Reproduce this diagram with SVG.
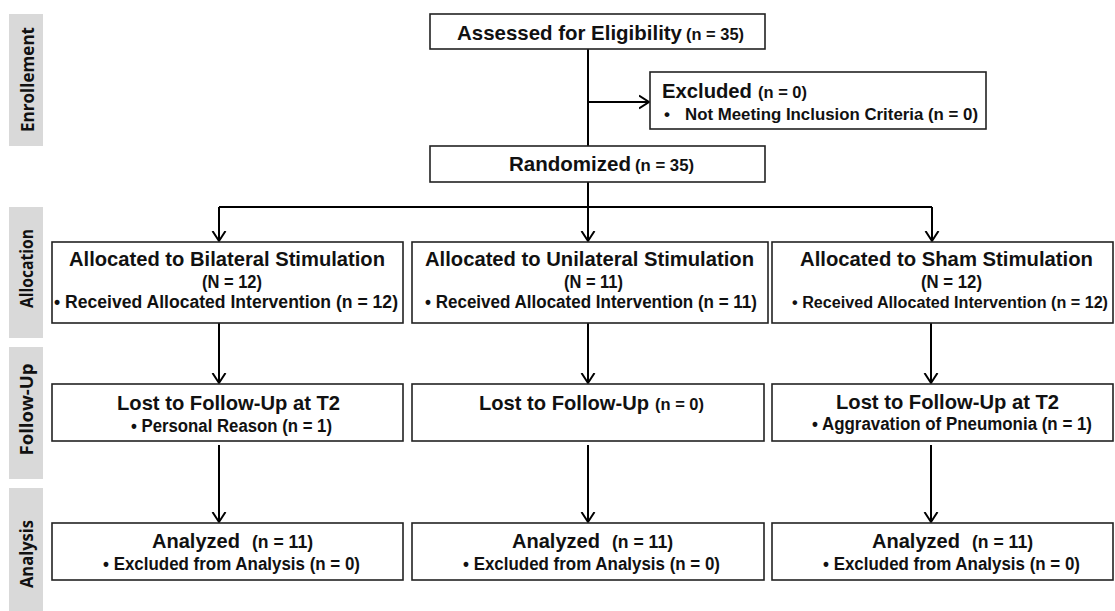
<svg xmlns="http://www.w3.org/2000/svg" width="1115" height="611" viewBox="0 0 1115 611">
<defs>
<marker id="v" markerUnits="userSpaceOnUse" markerWidth="20" markerHeight="20" refX="10" refY="10" orient="auto">
<path d="M0,3.5 L10,10 L0,16.5" fill="none" stroke="#000" stroke-width="2"/>
</marker>
<style>
.bg{fill:#fff}
.phase{fill:#d9d9d9}
.pl{font-family:"Open Sans","DejaVu Sans",sans-serif;font-size:17.5px;font-weight:700;fill:#111;text-anchor:middle}
.box{fill:#fff;stroke:#222;stroke-width:1.6}
.t{font-family:"Liberation Sans",Arial,sans-serif;font-weight:bold;font-size:21px;fill:#111}
.s{font-family:"Liberation Sans",Arial,sans-serif;font-weight:bold;font-size:17px;fill:#111}
.b{font-family:"Liberation Sans",Arial,sans-serif;font-weight:bold;font-size:18px;fill:#111}
.ln{fill:none;stroke:#000;stroke-width:2}
.ar{fill:none;stroke:#000;stroke-width:2;marker-end:url(#v)}
</style>
</defs>
<rect class="bg" x="0" y="0" width="1115" height="611"/>

<g id="phases">
<rect class="phase" x="9" y="14" width="34" height="132"/>
<text class="pl" transform="translate(34,79.5) rotate(-90)" textLength="105" lengthAdjust="spacingAndGlyphs">Enrollement</text>
<rect class="phase" x="9" y="207" width="34" height="131"/>
<text class="pl" transform="translate(33,268.5) rotate(-90)" textLength="79" lengthAdjust="spacingAndGlyphs">Allocation</text>
<rect class="phase" x="9" y="347" width="34" height="132"/>
<text class="pl" transform="translate(33,409.5) rotate(-90)" textLength="92" lengthAdjust="spacingAndGlyphs">Follow-Up</text>
<rect class="phase" x="9" y="488" width="34" height="123"/>
<text class="pl" transform="translate(33,554) rotate(-90)" textLength="68" lengthAdjust="spacingAndGlyphs">Analysis</text>
</g>

<g id="connectors">
<line class="ln" x1="588" y1="49" x2="588" y2="146"/>
<line class="ar" x1="588" y1="102" x2="649" y2="102"/>
<line class="ln" x1="588" y1="182" x2="588" y2="207"/>
<line class="ln" x1="219" y1="207" x2="932" y2="207"/>
<line class="ar" x1="219" y1="207" x2="219" y2="241"/>
<line class="ar" x1="588" y1="207" x2="588" y2="241"/>
<line class="ar" x1="932" y1="207" x2="932" y2="241"/>
<line class="ar" x1="219" y1="323" x2="219" y2="383"/>
<line class="ar" x1="588" y1="323" x2="588" y2="383"/>
<line class="ar" x1="931" y1="323" x2="931" y2="383"/>
<line class="ar" x1="219" y1="445" x2="219" y2="522"/>
<line class="ar" x1="588" y1="445" x2="588" y2="522"/>
<line class="ar" x1="931" y1="445" x2="931" y2="522"/>
</g>

<g id="assessed">
<rect class="box" x="430" y="14" width="335" height="35"/>
<text class="t" x="457" y="40" textLength="225" lengthAdjust="spacingAndGlyphs">Assessed for Eligibility</text>
<text class="s" x="686" y="40" textLength="58" lengthAdjust="spacingAndGlyphs">(n = 35)</text>
</g>

<g id="excluded">
<rect class="box" x="650" y="72" width="336" height="57"/>
<text class="t" x="662" y="98" textLength="90" lengthAdjust="spacingAndGlyphs">Excluded</text>
<text class="s" x="758" y="98" textLength="49" lengthAdjust="spacingAndGlyphs">(n = 0)</text>
<text class="s" x="664" y="120">•</text>
<text class="s" x="685" y="120" textLength="293" lengthAdjust="spacingAndGlyphs">Not Meeting Inclusion Criteria (n = 0)</text>
</g>

<g id="randomized">
<rect class="box" x="430" y="146" width="335" height="36"/>
<text class="t" x="509" y="171" textLength="122" lengthAdjust="spacingAndGlyphs">Randomized</text>
<text class="s" x="635" y="171" textLength="59" lengthAdjust="spacingAndGlyphs">(n = 35)</text>
</g>

<g id="alloc-bilateral">
<rect class="box" x="52" y="242" width="351" height="81"/>
<text class="t" x="69" y="266" textLength="316" lengthAdjust="spacingAndGlyphs">Allocated to Bilateral Stimulation</text>
<text class="b" x="202" y="288" textLength="60" lengthAdjust="spacingAndGlyphs">(N = 12)</text>
<text class="b" x="54" y="308" textLength="344" lengthAdjust="spacingAndGlyphs">• Received Allocated Intervention (n = 12)</text>
</g>

<g id="alloc-unilateral">
<rect class="box" x="412" y="242" width="356" height="81"/>
<text class="t" x="425" y="266" textLength="329" lengthAdjust="spacingAndGlyphs">Allocated to Unilateral Stimulation</text>
<text class="b" x="564" y="288" textLength="59" lengthAdjust="spacingAndGlyphs">(N = 11)</text>
<text class="b" x="425" y="308" textLength="332" lengthAdjust="spacingAndGlyphs">• Received Allocated Intervention (n = 11)</text>
</g>

<g id="alloc-sham">
<rect class="box" x="772" y="242" width="341" height="81"/>
<text class="t" x="800" y="266" textLength="293" lengthAdjust="spacingAndGlyphs">Allocated to Sham Stimulation</text>
<text class="b" x="921" y="288" textLength="61" lengthAdjust="spacingAndGlyphs">(N = 12)</text>
<text class="b" x="792" y="308" style="font-size:16px" textLength="316" lengthAdjust="spacingAndGlyphs">• Received Allocated Intervention (n = 12)</text>
</g>

<g id="fu-bilateral">
<rect class="box" x="52" y="384" width="351" height="57"/>
<text class="t" x="117" y="410" textLength="223" lengthAdjust="spacingAndGlyphs">Lost to Follow-Up at T2</text>
<text class="b" x="131" y="432" textLength="201" lengthAdjust="spacingAndGlyphs">• Personal Reason (n = 1)</text>
</g>

<g id="fu-unilateral">
<rect class="box" x="412" y="384" width="352" height="57"/>
<text class="t" x="479" y="410" textLength="170" lengthAdjust="spacingAndGlyphs">Lost to Follow-Up</text>
<text class="s" x="655" y="410" textLength="49" lengthAdjust="spacingAndGlyphs">(n = 0)</text>
</g>

<g id="fu-sham">
<rect class="box" x="772" y="384" width="341" height="57"/>
<text class="t" x="836" y="409" textLength="223" lengthAdjust="spacingAndGlyphs">Lost to Follow-Up at T2</text>
<text class="b" x="812" y="430" textLength="280" lengthAdjust="spacingAndGlyphs">• Aggravation of Pneumonia (n = 1)</text>
</g>

<g id="an-bilateral">
<rect class="box" x="52" y="523" width="351" height="57"/>
<text class="t" x="152" y="548" textLength="88" lengthAdjust="spacingAndGlyphs">Analyzed</text>
<text class="b" x="252" y="548" textLength="61" lengthAdjust="spacingAndGlyphs">(n = 11)</text>
<text class="b" x="103" y="570" textLength="257" lengthAdjust="spacingAndGlyphs">• Excluded from Analysis (n = 0)</text>
</g>

<g id="an-unilateral">
<rect class="box" x="412" y="523" width="352" height="57"/>
<text class="t" x="512" y="548" textLength="88" lengthAdjust="spacingAndGlyphs">Analyzed</text>
<text class="b" x="612" y="548" textLength="61" lengthAdjust="spacingAndGlyphs">(n = 11)</text>
<text class="b" x="463" y="570" textLength="257" lengthAdjust="spacingAndGlyphs">• Excluded from Analysis (n = 0)</text>
</g>

<g id="an-sham">
<rect class="box" x="772" y="523" width="341" height="57"/>
<text class="t" x="872" y="548" textLength="88" lengthAdjust="spacingAndGlyphs">Analyzed</text>
<text class="b" x="972" y="548" textLength="61" lengthAdjust="spacingAndGlyphs">(n = 11)</text>
<text class="b" x="823" y="570" textLength="257" lengthAdjust="spacingAndGlyphs">• Excluded from Analysis (n = 0)</text>
</g>
</svg>
